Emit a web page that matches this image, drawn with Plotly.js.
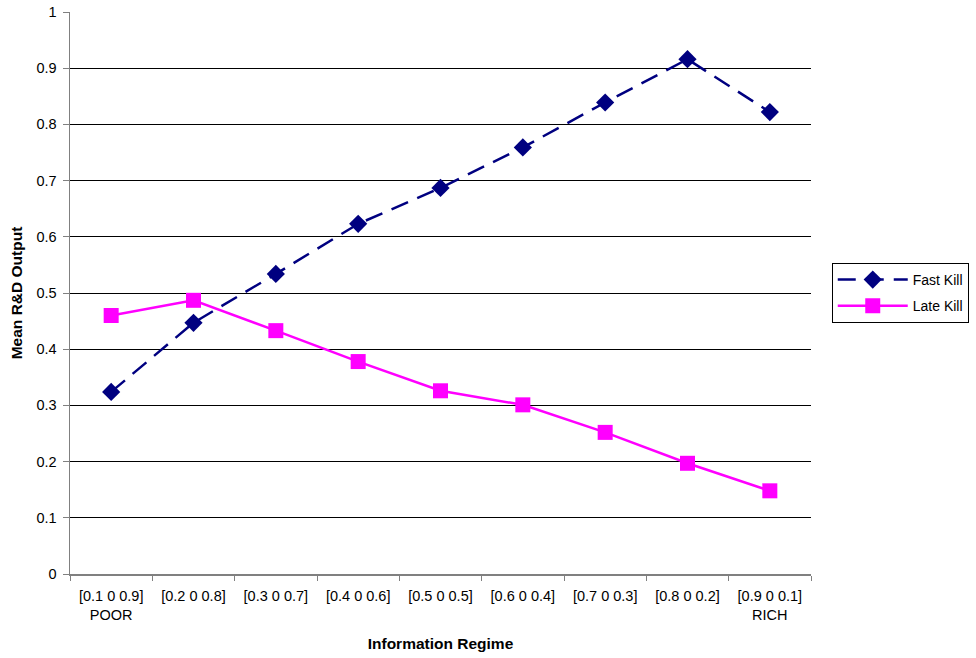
<!DOCTYPE html>
<html>
<head>
<meta charset="utf-8">
<script src="https://cdn.plot.ly/plotly-3.0.1.min.js"></script>
<style>
  html, body { margin: 0; padding: 0; background: #fff; }
  #chart { width: 976px; height: 658px; }
</style>
</head>
<body>
<div id="chart"></div>
<script>
// Information regimes, from information-poor to information-rich
const regimes = [
  "[0.1 0 0.9]<br>POOR",
  "[0.2 0 0.8]",
  "[0.3 0 0.7]",
  "[0.4 0 0.6]",
  "[0.5 0 0.5]",
  "[0.6 0 0.4]",
  "[0.7 0 0.3]",
  "[0.8 0 0.2]",
  "[0.9 0 0.1]<br>RICH"
];

// Mean R&D output per regime
const fastKill = [0.324, 0.447, 0.534, 0.623, 0.687, 0.759, 0.839, 0.916, 0.822];
const lateKill = [0.460, 0.487, 0.433, 0.378, 0.326, 0.301, 0.252, 0.197, 0.148];

const yTicks = [0, 0.1, 0.2, 0.3, 0.4, 0.5, 0.6, 0.7, 0.8, 0.9, 1];
const yTickText = ["0", "0.1", "0.2", "0.3", "0.4", "0.5", "0.6", "0.7", "0.8", "0.9", "1"];

const font = "Liberation Sans, Arial, sans-serif";
const tickSize = 14.5;
const titleSize = 15.5;

const traces = [
  {
    x: regimes, y: fastKill, name: "Fast Kill", legendgroup: "fast",
    type: "scatter", mode: "lines+markers",
    line: { color: "#000080", width: 2.5, dash: "18px,10px" },
    marker: { symbol: "diamond", size: 14, color: "#000080" }
  },
  {
    x: regimes, y: lateKill, name: "Late Kill", legendgroup: "late",
    type: "scatter", mode: "lines+markers",
    line: { color: "#FF00FF", width: 2.5 },
    marker: { symbol: "square", size: 15, color: "#FF00FF" }
  }
];

const layout = {
  width: 976, height: 658,
  margin: { l: 70, r: 165, t: 12, b: 84, autoexpand: false },
  paper_bgcolor: "#fff", plot_bgcolor: "#fff",
  font: { family: font, size: tickSize, color: "#000" },
  showlegend: true,
  legend: {
    x: 1.028, xanchor: "left", y: 0.5, yanchor: "middle",
    bordercolor: "#000", borderwidth: 1, bgcolor: "#fff",
    font: { family: font, size: 14, color: "#000" },
    itemwidth: 70, tracegroupgap: 5
  },
  xaxis: {
    type: "category",
    range: [-0.5, regimes.length - 0.5],
    showgrid: false, zeroline: false,
    showline: true, linecolor: "#808080", linewidth: 1.5,
    ticks: "outside", ticklen: 5, tickcolor: "#808080", tickwidth: 1,
    tickson: "boundaries",
    ticklabelstandoff: 8,
    tickfont: { family: font, size: tickSize, color: "#000" },
    title: { text: "<b>Information Regime</b>", font: { family: font, size: titleSize, color: "#000" }, standoff: 16 }
  },
  yaxis: {
    range: [0, 1],
    tickmode: "array", tickvals: yTicks, ticktext: yTickText,
    showgrid: true, gridcolor: "#000", gridwidth: 1,
    zeroline: false,
    showline: true, linecolor: "#808080", linewidth: 1.5,
    ticks: "outside", ticklen: 6, tickcolor: "#808080", tickwidth: 1,
    ticklabelstandoff: 3,
    tickfont: { family: font, size: tickSize, color: "#000" },
    title: { text: "<b>Mean R&amp;D Output</b>", font: { family: font, size: titleSize, color: "#000" }, standoff: 10 }
  }
};

Plotly.newPlot("chart", traces, layout, { displayModeBar: false, staticPlot: true });
</script>
</body>
</html>
